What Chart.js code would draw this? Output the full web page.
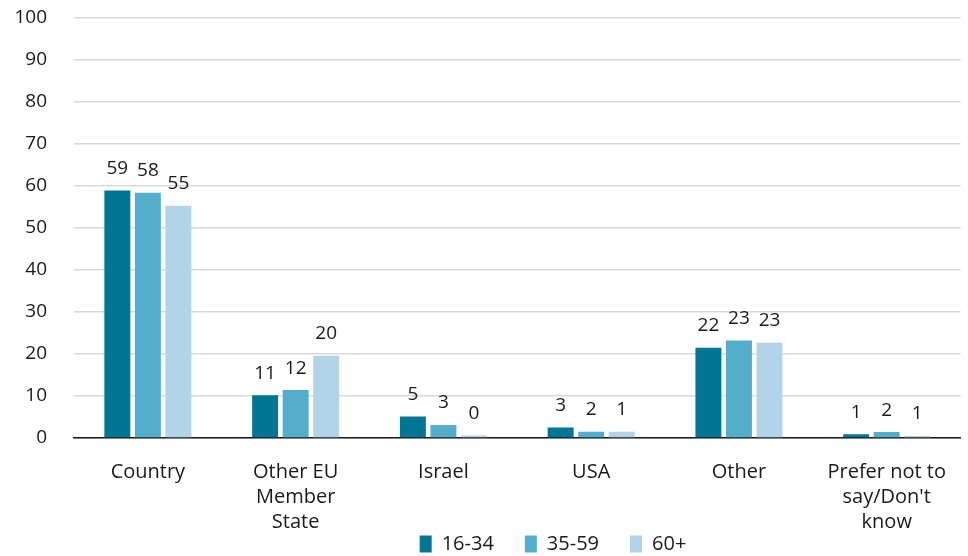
<!DOCTYPE html>
<html>
<head>
<meta charset="utf-8">
<script src="https://cdn.jsdelivr.net/npm/chart.js@4/dist/chart.umd.min.js"></script>
<style>
  html, body { margin: 0; padding: 0; background: #fff; }
  #wrap { width: 968px; height: 556px; }
</style>
</head>
<body>
<div id="wrap"><canvas id="chart"></canvas></div>
<script>
const categories = [
  'Country',
  ['Other EU', 'Member', 'State'],
  'Israel',
  'USA',
  'Other',
  ['Prefer not to', "say/Don't", 'know']
];
const seriesNames = ['16-34', '35-59', '60+'];

// bar heights
const youngValues = [58.9, 10.2, 5.1, 2.5, 21.5, 0.9];
const middleValues = [58.4, 11.4, 3.1, 1.5, 23.2, 1.4];
const olderValues = [55.3, 19.6, 0.6, 1.5, 22.7, 0.5];

// labels printed above the bars
const youngLabels = ['59', '11', '5', '3', '22', '1'];
const middleLabels = ['58', '12', '3', '2', '23', '2'];
const olderLabels = ['55', '20', '0', '1', '23', '1'];

const yTicks = [0, 10, 20, 30, 40, 50, 60, 70, 80, 90, 100];

const colors = ['rgb(0, 118, 148)', 'rgb(82, 174, 203)', 'rgb(177, 212, 232)'];
const FONT = "'Open Sans', 'Noto Sans', sans-serif";

const barLabels = {
  id: 'barLabels',
  afterDatasetsDraw(chart) {
    const ctx = chart.ctx;
    ctx.save();
    ctx.font = '19px ' + FONT;
    ctx.fillStyle = '#1a1a1a';
    ctx.textAlign = 'center';
    ctx.textBaseline = 'middle';
    chart.data.datasets.forEach((ds, i) => {
      chart.getDatasetMeta(i).data.forEach((bar, j) => {
        ctx.fillText(ds.labelsText[j], bar.x, bar.y - 22);
      });
    });
    ctx.restore();
  }
};

// small layout tweaks: legend a bit right of centre, x labels allowed to run into the legend band
const layoutTweaks = {
  id: 'layoutTweaks',
  afterLayout(chart) {
    chart.legend.left += 69;
    chart.legend.right += 69;
    chart.legend.top += 8;
    chart.legend.bottom += 8;
    chart.scales.x.bottom = chart.height;
  }
};

new Chart(document.getElementById('chart'), {
  type: 'bar',
  data: {
    labels: categories,
    datasets: [
      { label: seriesNames[0], data: youngValues, labelsText: youngLabels, backgroundColor: colors[0] },
      { label: seriesNames[1], data: middleValues, labelsText: middleLabels, backgroundColor: colors[1] },
      { label: seriesNames[2], data: olderValues, labelsText: olderLabels, backgroundColor: colors[2] }
    ]
  },
  options: {
    responsive: true,
    maintainAspectRatio: false,
    animation: false,
    layout: { autoPadding: false, padding: { top: 18, right: 0, left: 0, bottom: 0 } },
    datasets: {
      bar: { barPercentage: 0.85, categoryPercentage: 0.62 }
    },
    scales: {
      x: {
        afterFit(scale) { scale.height = 57; },
        grid: { display: false, drawTicks: false },
        border: { color: '#1a1a1a', width: 1.5 },
        ticks: {
          color: '#1a1a1a',
          font: { family: FONT, size: 20, lineHeight: 1.25 },
          padding: 22,
          maxRotation: 0,
          autoSkip: false
        }
      },
      y: {
        min: 0,
        max: 100,
        afterBuildTicks(scale) {
          scale.ticks = yTicks.map(v => ({ value: v }));
        },
        afterFit(scale) {
          scale.width = 74;
          // tick padding is horizontal here, don't let it push the top down
          scale.paddingTop = 0;
          scale.paddingBottom = 0;
        },
        grid: { color: '#d9d9d9', lineWidth: 1.5, drawTicks: false },
        border: { display: false },
        ticks: {
          color: '#1a1a1a',
          font: { family: FONT, size: 19 },
          padding: 27
        }
      }
    },
    plugins: {
      legend: {
        position: 'bottom',
        labels: {
          color: '#1a1a1a',
          font: { family: FONT, size: 20 },
          boxWidth: 12,
          boxHeight: 17,
          padding: 31,
          useBorderRadius: false
        }
      },
      tooltip: { enabled: false }
    }
  },
  plugins: [barLabels, layoutTweaks]
});
</script>
</body>
</html>
